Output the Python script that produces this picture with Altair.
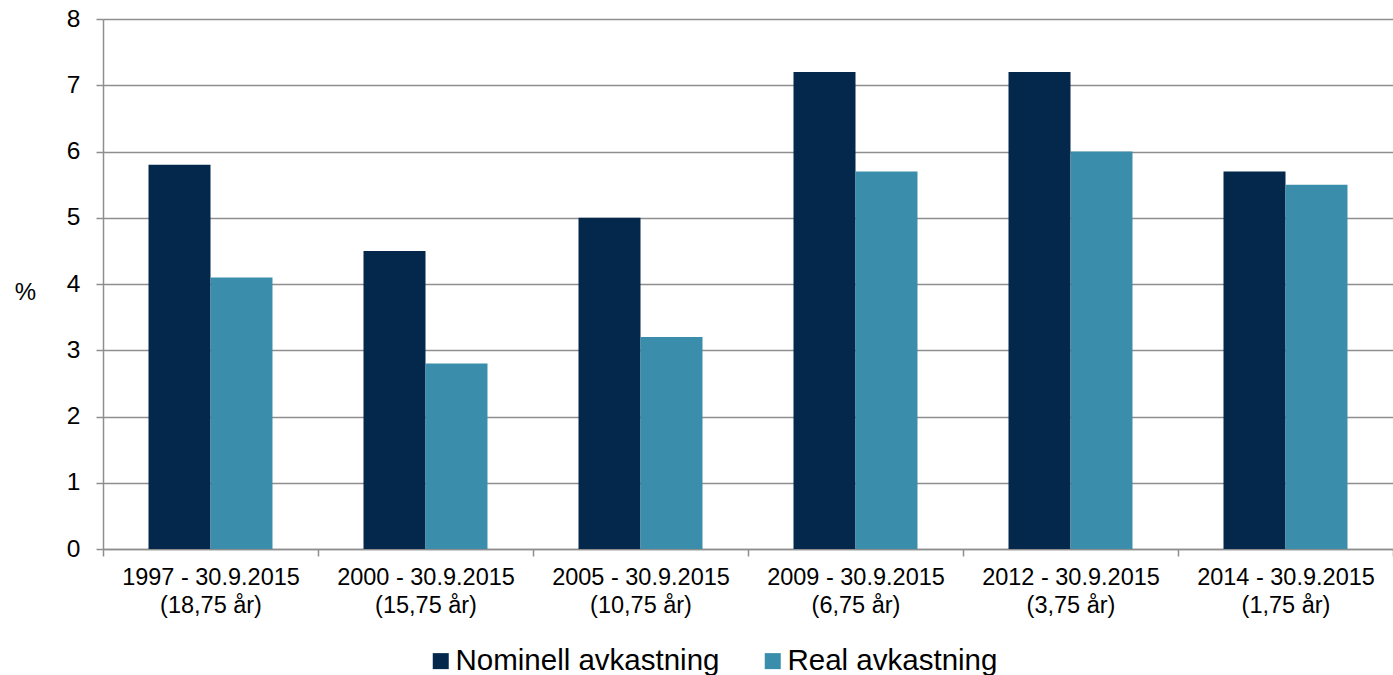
import altair as alt
import pandas as pd

# Periods (two-line labels split on "|"), returns in percent
periods = [
    "1997 - 30.9.2015|(18,75 år)",
    "2000 - 30.9.2015|(15,75 år)",
    "2005 - 30.9.2015|(10,75 år)",
    "2009 - 30.9.2015|(6,75 år)",
    "2012 - 30.9.2015|(3,75 år)",
    "2014 - 30.9.2015|(1,75 år)",
]
nominell = [5.8, 4.5, 5.0, 7.2, 7.2, 5.7]
real = [4.1, 2.8, 3.2, 5.7, 6.0, 5.5]
series = ["Nominell avkastning", "Real avkastning"]
colors = ["#03284c", "#3b8eab"]
y_ticks = [0, 1, 2, 3, 4, 5, 6, 7, 8]

rows = []
for p, n, r in zip(periods, nominell, real):
    rows.append({"periode": p, "serie": series[0], "verdi": n})
    rows.append({"periode": p, "serie": series[1], "verdi": r})
df = pd.DataFrame(rows)

FONT = "Liberation Sans"
GRID = "#8e8e8e"

chart = (
    alt.Chart(df)
    .mark_bar()
    .encode(
        x=alt.X(
            "periode:N",
            sort=periods,
            title=None,
            scale=alt.Scale(paddingInner=0, paddingOuter=0),
            axis=alt.Axis(
                labelExpr="split(datum.label, '|')",
                labelAngle=0,
                labelFontSize=23.5,
                labelLineHeight=28,
                labelPadding=9,
                labelColor="#000000",
                labelFont=FONT,
                tickBand="extent",
                tickSize=7,
                tickColor=GRID,
                tickWidth=1.5,
                domainColor=GRID,
                domainWidth=1.5,
                grid=False,
            ),
        ),
        xOffset=alt.XOffset(
            "serie:N",
            sort=series,
            scale=alt.Scale(paddingInner=0, paddingOuter=0.734),
        ),
        y=alt.Y(
            "verdi:Q",
            scale=alt.Scale(domain=[0, 8], nice=False),
            axis=alt.Axis(
                values=y_ticks,
                title="%",
                titleAngle=0,
                titleFontSize=24,
                titleFontWeight="normal",
                titleFont=FONT,
                titleColor="#000000",
                titleX=-78,
                titleY=273,
                titleAlign="center",
                titleBaseline="middle",
                labelFontSize=24.5,
                labelFont=FONT,
                labelColor="#000000",
                labelPadding=16,
                tickSize=7,
                tickColor=GRID,
                tickWidth=1.5,
                domainColor=GRID,
                domainWidth=1.5,
                gridColor=GRID,
                gridWidth=1.5,
            ),
        ),
        color=alt.Color(
            "serie:N",
            sort=series,
            scale=alt.Scale(domain=series, range=colors),
            legend=alt.Legend(
                title=None,
                orient="none",
                direction="horizontal",
                legendX=323,
                legendY=627,
                symbolType="square",
                symbolSize=256,
                symbolStrokeWidth=0,
                labelFontSize=29.5,
                labelFont=FONT,
                labelColor="#000000",
                labelOffset=0,
                columnPadding=38,
                labelLimit=400,
            ),
        ),
    )
    .properties(
        width=1290,
        height=530,
        padding={"left": 103, "top": 19, "right": 0, "bottom": 126},
        autosize=alt.AutoSizeParams(type="none"),
    )
    .configure_view(stroke=None)
    .configure(font=FONT)
)

chart.save("out.html", embed_options={"renderer": "svg", "actions": False})
